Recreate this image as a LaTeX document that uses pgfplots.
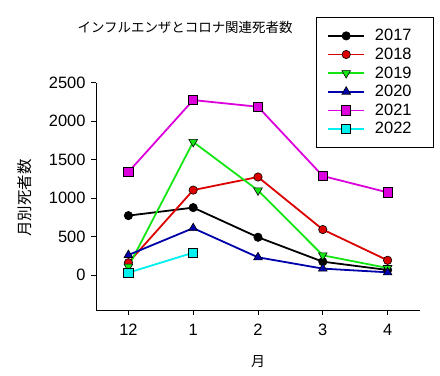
\documentclass[border=0pt]{standalone}
\usepackage{pgfplots}
\pgfplotsset{compat=1.18}
\usepackage{fontspec}
\setmainfont{Liberation Sans}
\newfontfamily\jp{Noto Sans CJK JP}
\definecolor{c2017}{RGB}{0,0,0}
\definecolor{c2018}{RGB}{220,0,0}
\definecolor{c2019}{RGB}{20,230,20}
\definecolor{c2020}{RGB}{0,0,170}
\definecolor{c2021}{RGB}{220,0,220}
\definecolor{c2022}{RGB}{0,240,240}
\begin{document}
\begin{tikzpicture}
\path[use as bounding box] (0,0) rectangle (440bp,376bp);
\begin{axis}[
  at={(96bp,66bp)}, anchor=south west,
  scale only axis, width=324bp, height=227.3bp,
  xmin=-0.5, xmax=4.5, ymin=-455, ymax=2500,
  axis x line=bottom, axis y line=left,
  axis line style={-, line width=0.8bp},
  xtick={0,1,2,3,4}, xticklabels={12,1,2,3,4},
  ytick={0,500,1000,1500,2000,2500},
  tick align=outside, major tick length=5bp,
  tick style={line width=0.8bp, black},
  /pgf/number format/assume math mode=true,
  /pgf/number format/1000 sep={},
  tick label style={font=\fontsize{16.5}{19}\selectfont},
  yticklabel style={xshift=-2bp},
  xticklabel style={yshift=-6bp},
  title={\jp インフルエンザとコロナ関連死者数},
  title style={at={(rel axis cs:0.275,1.219)}, anchor=center, font=\fontsize{13.5}{16}\selectfont},
  ylabel={\jp 月別死者数},
  ylabel style={at={(rel axis cs:-0.219,0.493)}, anchor=center, font=\fontsize{15.5}{18}\selectfont},
  xlabel={\jp 月},
  xlabel style={at={(rel axis cs:0.5,-0.229)}, anchor=center, font=\fontsize{14}{16}\selectfont},
  legend style={at={(rel axis cs:0.679,1.289)}, anchor=north west,
    draw=black, line width=0.8bp, font=\fontsize{16.5}{19}\selectfont,
    inner xsep=11bp, inner ysep=11.5bp,
    nodes={inner sep=0bp, text height=12bp, text depth=2bp},
    row sep=4.6bp, column sep=10bp},
  legend cell align=left,
  legend image code/.code={\draw[mark repeat=2,mark phase=2,#1] plot coordinates {(0bp,0bp) (18bp,0bp) (36bp,0bp)};},
  legend image post style={line width=1.6bp},
  every axis plot/.append style={line width=1.8bp},
]
\addplot[c2017, mark=*, mark size=4.2bp, mark options={draw=black, fill=black, line width=0.6bp}]
  coordinates {(0,772) (1,876) (2,491) (3,173) (4,65)};
\addlegendentry{2017\hspace*{11bp}}
\addplot[c2018, mark=*, mark size=4.2bp, mark options={draw=black, fill=c2018, line width=0.6bp}]
  coordinates {(0,160) (1,1104) (2,1274) (3,591) (4,191)};
\addlegendentry{2018\hspace*{11bp}}
\addplot[c2019, mark=triangle*, mark size=5bp, mark options={rotate=180, draw=black, fill=c2019, line width=0.6bp}]
  coordinates {(0,108) (1,1730) (2,1100) (3,256) (4,91)};
\addlegendentry{2019\hspace*{11bp}}
\addplot[c2020, mark=triangle*, mark size=5bp, mark options={draw=black, fill=c2020, line width=0.6bp}]
  coordinates {(0,260) (1,609) (2,230) (3,83) (4,35)};
\addlegendentry{2020\hspace*{11bp}}
\addplot[c2021, mark=square*, mark size=4.6bp, mark options={draw=black, fill=c2021, line width=0.6bp}]
  coordinates {(0,1339) (1,2274) (2,2187) (3,1287) (4,1074)};
\addlegendentry{2021\hspace*{11bp}}
\addplot[c2022, mark=square*, mark size=4.6bp, mark options={draw=black, fill=c2022, line width=0.6bp}]
  coordinates {(0,30) (1,290)};
\addlegendentry{2022\hspace*{11bp}}
\end{axis}
\end{tikzpicture}
\end{document}
